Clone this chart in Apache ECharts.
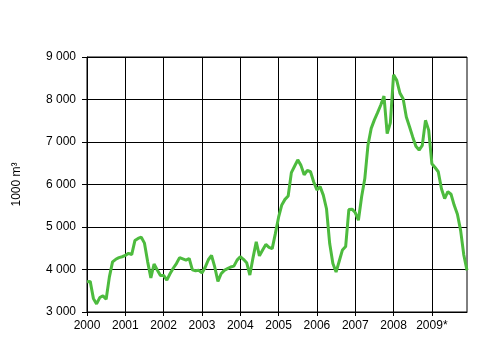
<!DOCTYPE html>
<html>
<head>
<meta charset="utf-8">
<script src="https://cdn.jsdelivr.net/npm/echarts@6/dist/echarts.min.js"></script>
<style>
  html, body { margin: 0; padding: 0; background: #fff; }
  #chart { width: 500px; height: 347px; }
</style>
</head>
<body>
<div id="chart"></div>
<script>
// years shown on the x axis (2009 is preliminary)
const yearLabels = ['2000', '2001', '2002', '2003', '2004', '2005', '2006', '2007', '2008', '2009*']

// monthly values, 1000 m3, one row per year
const v2000 = [3710, 3720, 3320, 3190, 3340, 3380, 3300, 3820, 4180, 4240, 4280, 4300]
const v2001 = [4330, 4380, 4350, 4680, 4730, 4760, 4620, 4180, 3800, 4130, 3990, 3860]
const v2002 = [3860, 3750, 3900, 4030, 4140, 4280, 4250, 4220, 4260, 3990, 3970, 3980]
const v2003 = [3920, 4050, 4230, 4330, 4060, 3720, 3900, 3980, 4020, 4060, 4080, 4220]
const v2004 = [4300, 4240, 4160, 3870, 4280, 4650, 4320, 4460, 4590, 4520, 4490, 4850]
const v2005 = [5230, 5520, 5650, 5730, 6280, 6430, 6580, 6450, 6230, 6330, 6300, 6060]
const v2006 = [5870, 5950, 5750, 5430, 4610, 4140, 3940, 4200, 4460, 4540, 5410, 5420]
const v2007 = [5340, 5160, 5710, 6140, 6930, 7320, 7520, 7690, 7870, 8080, 7200, 7450]
const v2008 = [8580, 8450, 8150, 8020, 7590, 7360, 7120, 6900, 6810, 6920, 7510, 7280]
const v2009 = [6490, 6400, 6300, 5900, 5670, 5830, 5770, 5510, 5300, 4920, 4340, 3980]

const yTicks = [3000, 4000, 5000, 6000, 7000, 8000, 9000]

const values = [].concat(v2000, v2001, v2002, v2003, v2004, v2005, v2006, v2007, v2008, v2009)
const months = []
yearLabels.forEach((y, yi) => {
  for (let m = 1; m <= 12; m++) months.push(yi + '-' + m)
})

const everyYear = (i) => i % 12 === 0
const fmtThousands = (v) => String(v).replace(/\B(?=(\d{3})+(?!\d))/g, ' ')

const chart = echarts.init(document.getElementById('chart'))

chart.setOption({
  animation: false,
  textStyle: { fontFamily: 'Liberation Sans, Arial, sans-serif' },
  grid: {
    left: 87,
    right: 33,
    top: 57,
    bottom: 35,
    show: true,
    borderColor: '#000',
    borderWidth: 1
  },
  xAxis: {
    type: 'category',
    data: months,
    boundaryGap: false,
    axisLine: { lineStyle: { color: '#000', width: 1 } },
    axisTick: { show: true, interval: everyYear, length: 4, lineStyle: { color: '#000' } },
    axisLabel: {
      interval: everyYear,
      color: '#000',
      fontSize: 12,
      margin: 8,
      formatter: (val) => {
        const [yi, m] = val.split('-')
        return m === '1' ? yearLabels[+yi] : ''
      }
    },
    splitLine: { show: true, interval: everyYear, lineStyle: { color: '#000', width: 1 } }
  },
  yAxis: {
    type: 'value',
    min: yTicks[0],
    max: yTicks[yTicks.length - 1],
    interval: 1000,
    name: '1000 m³',
    nameLocation: 'middle',
    nameGap: 64,
    nameRotate: 90,
    nameTextStyle: { color: '#000', fontSize: 12 },
    axisLine: { show: true, lineStyle: { color: '#000', width: 1 } },
    axisTick: { show: true, length: 5, lineStyle: { color: '#000' } },
    axisLabel: { color: '#000', fontSize: 12, margin: 11, formatter: fmtThousands },
    splitLine: { show: true, lineStyle: { color: '#000', width: 1 } }
  },
  series: [
    {
      type: 'line',
      data: values,
      showSymbol: false,
      smooth: false,
      lineStyle: { color: '#4dbb3e', width: 3 },
      itemStyle: { color: '#4dbb3e' }
    }
  ]
})
</script>
</body>
</html>
